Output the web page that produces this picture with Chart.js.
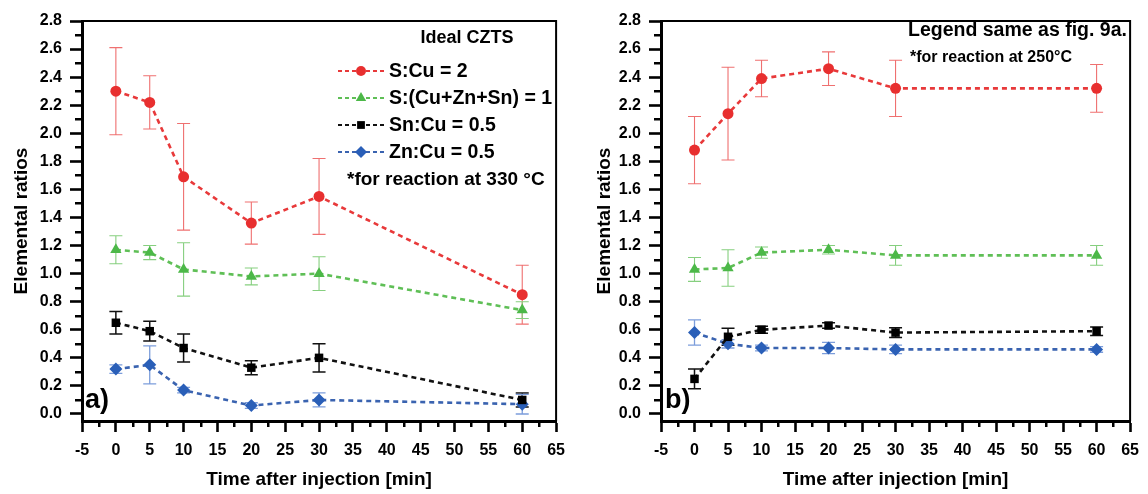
<!DOCTYPE html>
<html>
<head>
<meta charset="utf-8">
<script src="https://cdn.jsdelivr.net/npm/chart.js@4.4.1/dist/chart.umd.min.js"></script>
<style>
  html, body { margin: 0; padding: 0; background: #fff; }
  #wrap { position: relative; width: 1148px; height: 494px; }
  canvas { position: absolute; top: 0; }
</style>
</head>
<body>
<div id="wrap">
  <canvas id="chartA" width="574" height="494" style="left:0px"></canvas>
  <canvas id="chartB" width="574" height="494" style="left:574px"></canvas>
</div>
<script>
// Sampling times after injection (min)
const times = [0, 5, 10, 20, 30, 60];

// Panel a) — reaction at 330 °C
const aSCu      = [2.30, 2.22, 1.69, 1.36, 1.55, 0.85];
const aSCuErr   = [0.31, 0.19, 0.38, 0.15, 0.27, 0.21];
const aSMet     = [1.17, 1.15, 1.03, 0.98, 1.00, 0.74];
const aSMetErr  = [0.10, 0.05, 0.19, 0.06, 0.12, 0.06];
const aSnCu     = [0.65, 0.59, 0.47, 0.33, 0.40, 0.10];
const aSnCuErr  = [0.08, 0.07, 0.10, 0.05, 0.10, 0.05];
const aZnCu     = [0.32, 0.35, 0.17, 0.06, 0.10, 0.07];
const aZnCuErr  = [0.03, 0.135, 0.02, 0.02, 0.05, 0.07];

// Panel b) — reaction at 250 °C
const bSCu      = [1.88, 2.14, 2.39, 2.46, 2.32, 2.32];
const bSCuErr   = [0.24, 0.33, 0.13, 0.12, 0.20, 0.17];
const bSMet     = [1.03, 1.04, 1.15, 1.17, 1.13, 1.13];
const bSMetErr  = [0.085, 0.13, 0.04, 0.03, 0.07, 0.07];
const bSnCu     = [0.25, 0.55, 0.60, 0.63, 0.58, 0.59];
const bSnCuErr  = [0.07, 0.06, 0.025, 0.02, 0.035, 0.03];
const bZnCu     = [0.58, 0.50, 0.47, 0.47, 0.46, 0.46];
const bZnCuErr  = [0.09, 0.03, 0.02, 0.04, 0.03, 0.02];

// Axis ticks
const xTicks = [-5, 0, 5, 10, 15, 20, 25, 30, 35, 40, 45, 50, 55, 60, 65];
const xMinor = [-2.5, 2.5, 7.5, 12.5, 17.5, 22.5, 27.5, 32.5, 37.5, 42.5, 47.5, 52.5, 57.5, 62.5];
const yTicks = [0, 0.2, 0.4, 0.6, 0.8, 1.0, 1.2, 1.4, 1.6, 1.8, 2.0, 2.2, 2.4, 2.6, 2.8];
const yMinor = [0.1, 0.3, 0.5, 0.7, 0.9, 1.1, 1.3, 1.5, 1.7, 1.9, 2.1, 2.3, 2.5, 2.7];

const seriesLabels = ['S:Cu = 2', 'S:(Cu+Zn+Sn) = 1', 'Sn:Cu = 0.5', 'Zn:Cu = 0.5'];

const FONT = "'Liberation Sans', Arial, Helvetica, sans-serif";

const seriesStyle = [
  { line: '#e8393a', point: '#e82f2f', err: '#ef7070', errW: 1.1, pointStyle: 'circle',   radius: 5.5 },
  { line: '#5fbf56', point: '#4cb848', err: '#86cf7f', errW: 1.1, pointStyle: 'triangle', radius: 6.5 },
  { line: '#111111', point: '#000000', err: '#111111', errW: 1.5, pointStyle: 'rect',     radius: 6 },
  { line: '#3a63b0', point: '#2a5fb8', err: '#7c9ddb', errW: 1.3, pointStyle: 'rectRot',  radius: 6.5 }
];

function makeDatasets(values, errors) {
  return values.map((vals, k) => {
    const s = seriesStyle[k];
    return {
      label: seriesLabels[k],
      data: times.map((t, i) => ({ x: t, y: vals[i] })),
      errors: errors[k],
      errColor: s.err,
      errWidth: s.errW,
      borderColor: s.line,
      borderWidth: 2.6,
      borderDash: [5, 4],
      pointStyle: s.pointStyle,
      pointRadius: s.radius,
      pointBackgroundColor: s.point,
      pointBorderColor: s.point,
      pointBorderWidth: 0,
      fill: false,
      tension: 0
    };
  });
}

// Error bars drawn under the markers, through the chart's own scales
const errorBars = {
  id: 'errorBars',
  beforeDatasetsDraw(chart) {
    const { ctx, scales: { x, y } } = chart;
    ctx.save();
    chart.data.datasets.forEach(ds => {
      ctx.strokeStyle = ds.errColor;
      ctx.lineWidth = ds.errWidth;
      ds.data.forEach((p, i) => {
        const e = ds.errors[i];
        const px = x.getPixelForValue(p.x);
        const y1 = y.getPixelForValue(p.y - e);
        const y2 = y.getPixelForValue(p.y + e);
        const cap = 6.5;
        ctx.beginPath();
        ctx.moveTo(px, y1); ctx.lineTo(px, y2);
        ctx.moveTo(px - cap, y1); ctx.lineTo(px + cap, y1);
        ctx.moveTo(px - cap, y2); ctx.lineTo(px + cap, y2);
        ctx.stroke();
      });
    });
    ctx.restore();
  }
};

// Closed frame (top/right) and minor ticks
const frame = {
  id: 'frame',
  afterDraw(chart) {
    const { ctx, chartArea: a, scales: { x, y } } = chart;
    ctx.save();
    ctx.strokeStyle = '#000';
    ctx.lineWidth = 2;
    ctx.beginPath();
    ctx.moveTo(a.left, a.top);
    ctx.lineTo(a.right, a.top);
    ctx.lineTo(a.right, a.bottom);
    ctx.stroke();
    ctx.lineWidth = 2.5;
    ctx.beginPath();
    yMinor.forEach(v => {
      const py = Math.round(y.getPixelForValue(v)) + 0.25;
      ctx.moveTo(a.left - 7, py); ctx.lineTo(a.left, py);
    });
    xMinor.forEach(v => {
      const px = Math.round(x.getPixelForValue(v)) + 0.25;
      ctx.moveTo(px, a.bottom); ctx.lineTo(px, a.bottom + 6);
    });
    ctx.stroke();
    ctx.restore();
  }
};

function bold(size) { return `bold ${size}px ${FONT}`; }

// Panel a) legend and annotations
const panelAText = {
  id: 'panelAText',
  afterDraw(chart) {
    const ctx = chart.ctx;
    ctx.save();
    ctx.fillStyle = '#000';
    ctx.textBaseline = 'middle';
    ctx.font = bold(18);
    ctx.textAlign = 'center';
    ctx.fillText('Ideal CZTS', 467, 38);
    const rows = [71, 98, 125, 152];
    ctx.textAlign = 'left';
    seriesLabels.forEach((lab, k) => {
      const s = seriesStyle[k];
      const yy = rows[k];
      ctx.save();
      ctx.strokeStyle = s.line;
      ctx.lineWidth = 2.2;
      ctx.setLineDash([4, 3]);
      ctx.beginPath();
      ctx.moveTo(338, yy); ctx.lineTo(384, yy);
      ctx.stroke();
      ctx.restore();
      ctx.fillStyle = s.point;
      Chart.helpers.drawPoint(ctx, { pointStyle: s.pointStyle, radius: s.radius - 0.5, rotation: 0, borderWidth: 0 }, 361, yy);
      ctx.fillStyle = '#000';
      ctx.font = bold(19.5);
      ctx.fillText(lab, 389, yy + 1);
    });
    ctx.font = bold(19);
    ctx.fillText('*for reaction at 330 °C', 347, 180);
    ctx.font = bold(27);
    ctx.fillText('a)', 85, 401);
    ctx.restore();
  }
};

// Panel b) annotations
const panelBText = {
  id: 'panelBText',
  afterDraw(chart) {
    const ctx = chart.ctx;
    ctx.save();
    ctx.fillStyle = '#000';
    ctx.textBaseline = 'middle';
    ctx.textAlign = 'left';
    ctx.font = bold(19.5);
    ctx.fillText('Legend same as fig. 9a.', 334, 31);
    ctx.font = bold(16);
    ctx.fillText('*for reaction at 250°C', 336, 58);
    ctx.font = bold(27);
    ctx.fillText('b)', 91, 401);
    ctx.restore();
  }
};

function makeOptions(yAxisWidth, rightPad, yTitlePad) {
  return {
    responsive: false,
    animation: false,
    devicePixelRatio: 1,
    layout: { padding: { left: 0, right: rightPad, top: 21, bottom: 0 } },
    plugins: { legend: { display: false }, tooltip: { enabled: false } },
    scales: {
      x: {
        type: 'linear',
        min: -5, max: 65,
        afterBuildTicks: s => { s.ticks = xTicks.map(v => ({ value: v })); },
        afterFit: s => { s.height = 73; },
        ticks: {
          autoSkip: false, maxRotation: 0, padding: 9,
          color: '#000', font: { family: FONT, size: 16, weight: 'bold' },
          callback: v => String(v)
        },
        grid: { drawOnChartArea: false, drawTicks: true, tickLength: 11, tickWidth: 2.6, tickColor: '#000' },
        border: { display: true, width: 3, color: '#000' },
        title: {
          display: true, text: 'Time after injection [min]', color: '#000',
          font: { family: FONT, size: 19, weight: 'bold' },
          padding: { top: 0, bottom: 3 }
        }
      },
      y: {
        type: 'linear',
        min: -0.05, max: 2.8,
        afterBuildTicks: s => { s.ticks = yTicks.map(v => ({ value: v })); },
        afterFit: s => { s.width = yAxisWidth; },
        ticks: {
          padding: 8, color: '#000', font: { family: FONT, size: 16, weight: 'bold' },
          callback: v => Number(v).toFixed(1)
        },
        grid: { drawOnChartArea: false, drawTicks: true, tickLength: 12, tickWidth: 2.6, tickColor: '#000' },
        border: { display: true, width: 3, color: '#000' },
        title: {
          display: true, text: 'Elemental ratios', color: '#000',
          font: { family: FONT, size: 19, weight: 'bold' },
          padding: { top: yTitlePad, bottom: 0 }
        }
      }
    }
  };
}

new Chart(document.getElementById('chartA'), {
  type: 'line',
  data: { datasets: makeDatasets([aSCu, aSMet, aSnCu, aZnCu], [aSCuErr, aSMetErr, aSnCuErr, aZnCuErr]) },
  options: makeOptions(82, 16, 10),
  plugins: [errorBars, frame, panelAText]
});

new Chart(document.getElementById('chartB'), {
  type: 'line',
  data: { datasets: makeDatasets([bSCu, bSMet, bSnCu, bZnCu], [bSCuErr, bSMetErr, bSnCuErr, bZnCuErr]) },
  options: makeOptions(87, 11, 19),
  plugins: [errorBars, frame, panelBText]
});
</script>
</body>
</html>
